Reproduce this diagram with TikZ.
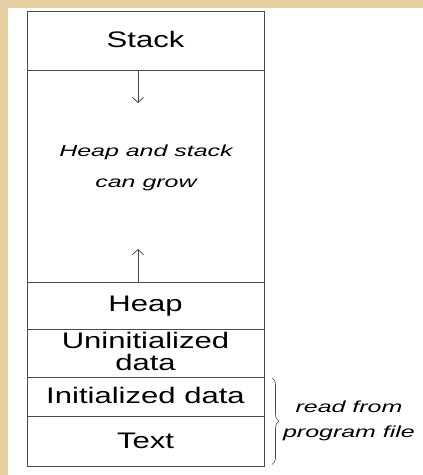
\documentclass[tikz,border=0pt]{standalone}
\usepackage{fontspec}
\setmainfont{Liberation Sans}
\usetikzlibrary{arrows.meta,decorations.pathreplacing}
\definecolor{parch}{HTML}{E6D0A2}
\definecolor{ln}{HTML}{4A4A4A}
\newcommand{\rx}[1]{\scalebox{1.38}[1]{#1}}
\newcommand{\ix}[1]{\scalebox{1.56}[1]{#1}}
\begin{document}
\begin{tikzpicture}[x=1pt,y=-1pt,
  seg/.style={draw=ln, line width=0.9pt, rectangle, minimum width=237pt, inner sep=0pt, outer sep=0pt, anchor=north west},
  reg/.style={font=\fontsize{22.5}{22.5}\selectfont, anchor=base, inner sep=0pt},
  ital/.style={font=\fontsize{16}{16}\selectfont\itshape, anchor=base, inner sep=0pt},
  arr/.style={draw=ln, line width=0.8pt, -{Straight Barb[length=5pt,width=11pt]}}]
\fill[parch] (0,0) rectangle (423,475);
\fill[white] (8,8) rectangle (423,475);
\useasboundingbox (0,0) rectangle (423,475);
% memory segments
\node[seg, minimum height=59pt]  (stack)  at (27,11)  {};
\node[seg, minimum height=212pt] (grow)   at (27,70)  {};
\node[seg, minimum height=47pt]  (heap)   at (27,282) {};
\node[seg, minimum height=48pt]  (uninit) at (27,329) {};
\node[seg, minimum height=39pt]  (init)   at (27,377) {};
\node[seg, minimum height=50pt]  (text)   at (27,416) {};
% labels
\node[reg] (stackl)  at (145.5,47)    {\rx{Stack}};
\node[reg] (heapl)   at (145.5,311)   {\rx{Heap}};
\node[reg] (uninit1) at (145.5,348.5) {\rx{Uninitialized}};
\node[reg] (uninit2) at (145.5,370)   {\rx{data}};
\node[reg] (initl)   at (145.5,403)   {\rx{Initialized data}};
\node[reg] (textl)   at (145.5,448)   {\rx{Text}};
\node[ital] (grow1) at (146,156) {\ix{Heap and stack}};
\node[ital] (grow2) at (146,187) {\ix{can grow}};
% arrows
\coordinate (dtip) at (138,103);
\coordinate (utip) at (138,249);
\draw[arr] (stack.south -| dtip) -- (dtip);
\draw[arr] (heap.north -| utip) -- (utip);
% brace
\coordinate (bt) at ([xshift=8pt,yshift=-1pt]init.north east);
\coordinate (bb) at ([xshift=8pt,yshift=1.5pt]text.south east);
\draw[draw=ln, line width=0.6pt, decorate, decoration={brace, amplitude=7pt}] (bt) -- (bb);
\node[ital] (read1) at (349,412) {\ix{read from}};
\node[ital] (read2) at (349,437) {\ix{program file}};
\end{tikzpicture}
\end{document}
